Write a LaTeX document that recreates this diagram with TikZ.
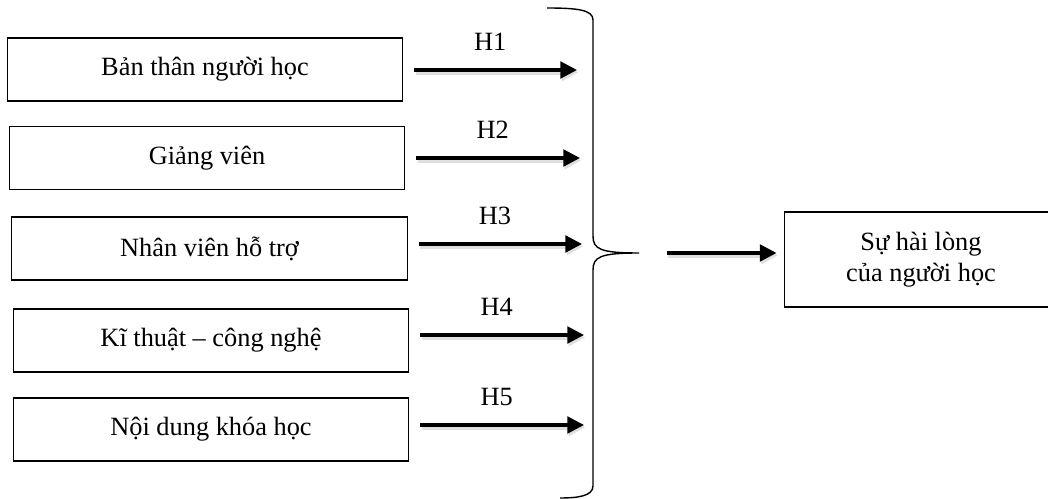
\documentclass[tikz,border=0pt]{standalone}
\usepackage{fontspec}
\setmainfont{Liberation Serif}
\usetikzlibrary{arrows.meta,positioning,calc}

\tikzset{
  factor/.style={draw, line width=0.6pt, minimum width=7.92cm, minimum height=1.26cm, inner sep=0pt},
  outcome/.style={draw, line width=0.6pt, minimum width=5.48cm, minimum height=1.9cm, align=center},
  link/.style={line width=1.8pt, -{Triangle[length=9.5pt,width=9.5pt]},
    preaction={draw=black!12, line width=3pt, transform canvas={shift={(0.8pt,-1.4pt)}}}},
  bracket/.style={line width=0.8pt}
}

\begin{document}
\begin{tikzpicture}[x=0.02cm, y=-0.02cm, font=\fontsize{15}{18}\selectfont]
  \useasboundingbox (0,0) rectangle (1048,499);
  \clip (0,0) rectangle (1048,499);

  % ---------------- Factors ----------------
  \foreach \i/\cx/\cy/\ay/\ax/\txt in {1/205/69.5/70/577/{Bản thân người học},
      2/207/158/158/580/{Giảng viên}, 3/209.5/248.5/244/582/{Nhân viên hỗ trợ},
      4/211/340.5/335/584/{Kĩ thuật – công nghệ}, 5/211/429.5/425/584/{Nội dung khóa học}} {
    \node[factor] (f\i) at (\cx,\cy) {\txt};
    \coordinate (e\i) at (\ax,\ay);
    \draw[link, shorten <=0.22cm] (f\i.east |- e\i) -- node[above=7pt] {H\i} (e\i);
  }

  % ---------------- Brace ----------------
  \coordinate (tip) at (639,253);
  \draw[bracket] (547,8) .. controls (578,8) and (593,10) .. (593,20)
    -- (593,236) .. controls (593,249) and (600,253) .. (tip)
    .. controls (600,253) and (593,257) .. (593,270)
    -- (593,486) .. controls (593,496) and (578,498) .. (560,498);

  % ---------------- Outcome ----------------
  \node[outcome] (goal) at (921,259.5) {Sự hài lòng\\của người học};
  \draw[link, shorten <=0.56cm, shorten >=0.14cm] (tip) -- (goal.west |- tip);

\end{tikzpicture}
\end{document}
